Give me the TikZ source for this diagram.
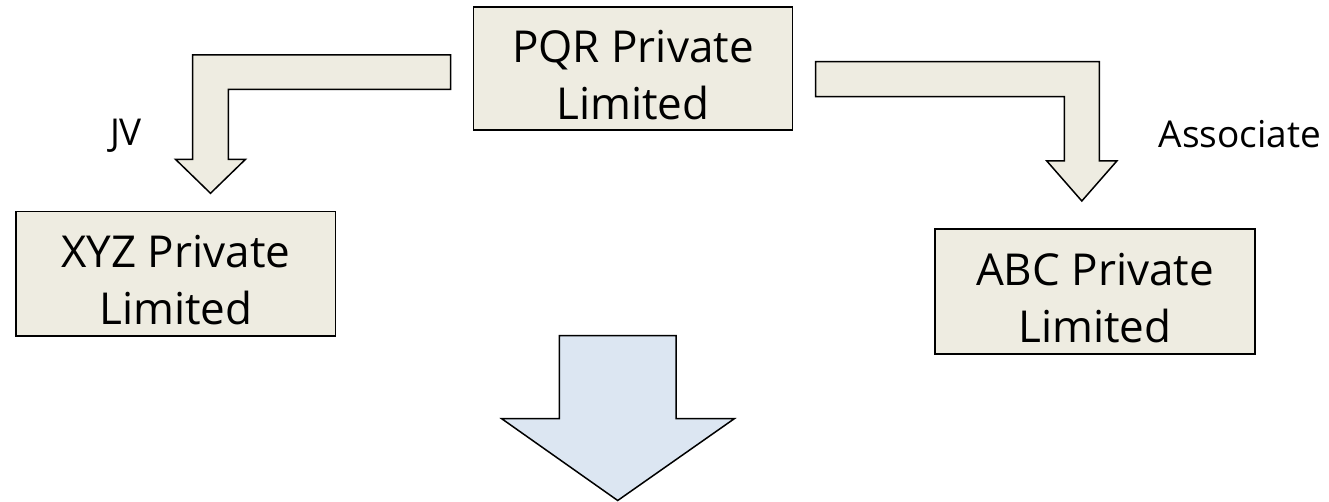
\documentclass[tikz,border=0pt]{standalone}
\usepackage{fontspec}
\setmainfont{Open Sans}
\definecolor{boxfill}{HTML}{EEECE1}
\definecolor{bigfill}{HTML}{DCE6F2}
\newcommand{\toprule}{\rule{0pt}{45pt}}
\begin{document}
\begin{tikzpicture}[x=1pt,y=-1pt,
  company/.style={draw=black, line width=1.5pt, fill=boxfill, align=center,
    font=\fontsize{44}{57}\selectfont, inner sep=0pt},
  lbl/.style={font=\fontsize{37}{44}\selectfont, anchor=base, inner sep=0pt},
  blockarrow/.style={draw=black, line width=1.5pt, fill=boxfill, line join=miter},
  bigarrow/.style={draw=black, line width=1.5pt, fill=bigfill, line join=miter}]
\useasboundingbox (0,0) rectangle (1329,502);
% company boxes
\node[company, minimum width=319.4pt, minimum height=123pt] (pqr) at (633,68.5)
  {\toprule PQR Private\\Limited};
\node[company, minimum width=319.7pt, minimum height=124.3pt] (xyz) at (175.85,273.85)
  {\toprule XYZ Private\\Limited};
\node[company, minimum width=320pt, minimum height=124.7pt] (abc) at (1095,291.5)
  {\toprule ABC Private\\Limited};
% labels
\node[lbl] (jv) at (126,145.5) {JV};
\node[lbl] (assoc) at (1240,147.3) {Associate};
% left bent arrow (PQR -> XYZ)
\draw[blockarrow] (450.7,55) -- (192.7,55) -- (192.7,159.3) -- (175.5,159.3)
  -- (210.5,193.3) -- (245.5,159.3) -- (228.3,159.3) -- (228.3,89.3)
  -- (450.7,89.3) -- cycle;
% right bent arrow (PQR -> ABC)
\draw[blockarrow] (815.7,61.7) -- (1099.3,61.7) -- (1099.3,161) -- (1116.8,161)
  -- (1081.8,201) -- (1046.8,161) -- (1064.3,161) -- (1064.3,96.7)
  -- (815.7,96.7) -- cycle;
% big down arrow
\draw[bigarrow] (559.3,335.7) -- (676,335.7) -- (676,418.7) -- (734.3,418.7)
  -- (617.7,500.5) -- (501.7,418.7) -- (559.3,418.7) -- cycle;
\end{tikzpicture}
\end{document}
